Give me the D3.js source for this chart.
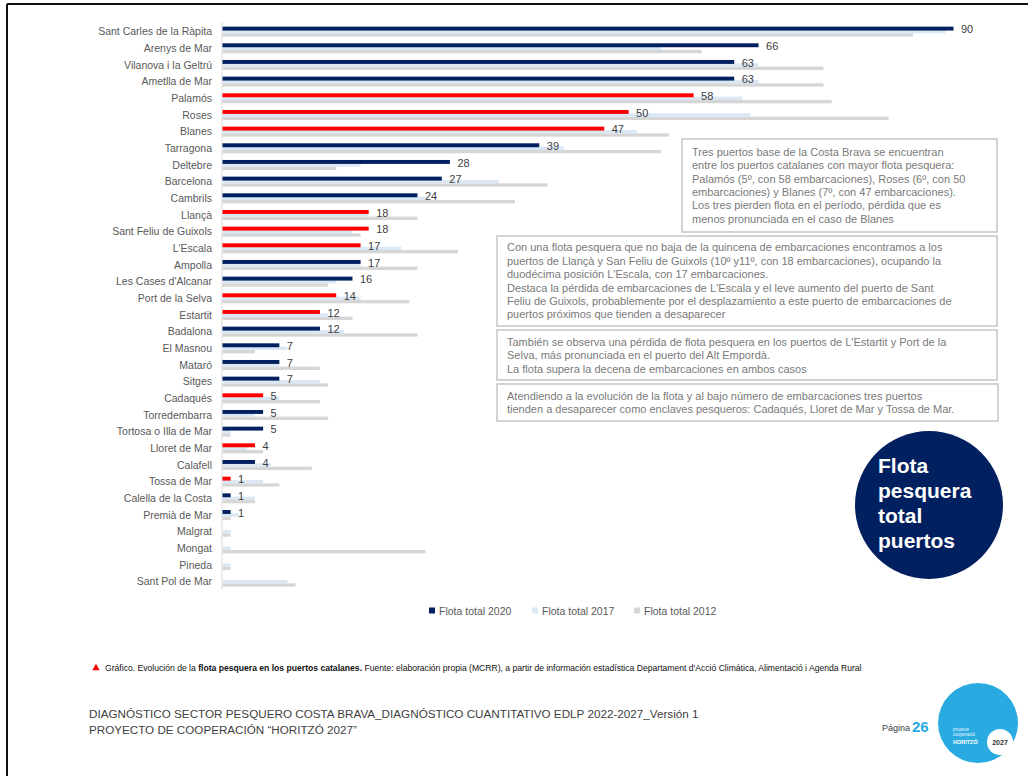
<!DOCTYPE html>
<html>
<head>
<meta charset="utf-8">
<script src="https://cdn.jsdelivr.net/npm/d3@7"></script>
<style>
  body { margin: 0; background: #fff; }
  svg { display: block; font-family: "Liberation Sans", Arial, sans-serif; }
</style>
</head>
<body>
<svg id="chart" width="1028" height="776"></svg>
<script>
// ports, ordered as in the chart (top to bottom)
const ports = ["Sant Carles de la Ràpita", "Arenys de Mar", "Vilanova i la Geltrú", "Ametlla de Mar",
  "Palamós", "Roses", "Blanes", "Tarragona", "Deltebre", "Barcelona", "Cambrils", "Llançà",
  "Sant Feliu de Guixols", "L'Escala", "Ampolla", "Les Cases d'Alcanar", "Port de la Selva",
  "Estartit", "Badalona", "El Masnou", "Mataró", "Sitges", "Cadaqués", "Torredembarra",
  "Tortosa o Illa de Mar", "Lloret de Mar", "Calafell", "Tossa de Mar", "Calella de la Costa",
  "Premià de Mar", "Malgrat", "Mongat", "Pineda", "Sant Pol de Mar"];

const flota2020 = [90, 66, 63, 63, 58, 50, 47, 39, 28, 27, 24, 18, 18, 17, 17, 16, 14, 12, 12, 7, 7, 7, 5, 5, 5, 4, 4, 1, 1, 1, 0, 0, 0, 0];
const flota2017 = [89, 54, 66, 66, 64, 65, 51, 42, 17, 34, 25, 18, 16, 22, 17, 14, 17, 13, 15, 8, 7, 12, 7, 4, 1, 3, 6, 5, 4, 2, 1, 1, 1, 8];
const flota2012 = [85, 59, 74, 74, 75, 82, 55, 54, 14, 40, 36, 24, 17, 29, 24, 13, 23, 16, 24, 4, 12, 13, 12, 13, 1, 5, 11, 7, 4, 1, 1, 25, 1, 9];

// Costa Brava ports drawn in red
const costaBrava = ["Palamós", "Roses", "Blanes", "Llançà", "Sant Feliu de Guixols", "L'Escala",
  "Port de la Selva", "Estartit", "Cadaqués", "Lloret de Mar", "Tossa de Mar"];

const seriesNames = ["Flota total 2020", "Flota total 2017", "Flota total 2012"];

const notes = [
  ["Tres puertos base de la Costa Brava se encuentran",
   "entre los puertos catalanes con mayor flota pesquera:",
   "Palamós (5º, con 58 embarcaciones), Roses (6º, con 50",
   "embarcaciones) y Blanes (7º, con 47 embarcaciones).",
   "Los tres pierden flota en el período, pérdida que es",
   "menos pronunciada en el caso de Blanes"],
  ["Con una flota pesquera que no baja de la quincena de embarcaciones encontramos a los",
   "puertos de Llançà y San Feliu de Guixols (10º y11º, con 18 embarcaciones), ocupando la",
   "duodécima posición L'Escala, con 17 embarcaciones.",
   "Destaca la pérdida de embarcaciones de L'Escala y el leve aumento del puerto de Sant",
   "Feliu de Guixols, probablemente por el desplazamiento a este puerto de embarcaciones de",
   "puertos próximos que tienden a desaparecer"],
  ["También se observa una pérdida de flota pesquera en los puertos de L'Estartit y Port de la",
   "Selva, más pronunciada en el puerto del Alt Empordà.",
   "La flota supera la decena de embarcaciones en ambos casos"],
  ["Atendiendo a la evolución de la flota y al bajo número de embarcaciones tres puertos",
   "tienden a desaparecer como enclaves pesqueros: Cadaqués, Lloret de Mar y Tossa de Mar."]
];

const navy = "#002060", red = "#ff0000", light = "#dae7f5", grey = "#d6d6d6";

const svg = d3.select("#chart");

// page frame (top + left edge)
svg.append("line").attr("x1", 7).attr("x2", 1028).attr("y1", 4).attr("y2", 4).attr("stroke", "#111").attr("stroke-width", 2);
svg.append("line").attr("x1", 7).attr("x2", 7).attr("y1", 4).attr("y2", 776).attr("stroke", "#111").attr("stroke-width", 2);

let data = ports.map((p, i) => ({port: p, v: [flota2020[i], flota2017[i], flota2012[i]]}));

let x = d3.scaleLinear().domain([0, 90]).range([222, 953]);
let y = d3.scaleBand().domain(ports).range([23.3, 590]).paddingInner(0.4).paddingOuter(0.2);
let ys = d3.scaleBand().domain([0, 1, 2]).range([0, y.bandwidth()]);

// axis line
svg.append("line")
  .attr("x1", x(0)).attr("x2", x(0))
  .attr("y1", 22).attr("y2", 590)
  .attr("stroke", "#d9d9d9").attr("stroke-width", 1);

// category labels
let yAxis = d3.axisLeft(y).tickSize(0).tickPadding(10);
let yg = svg.append("g").attr("transform", `translate(${x(0)},0)`).call(yAxis);
yg.select(".domain").remove();
yg.selectAll("text")
  .attr("font-size", "10.5px")
  .attr("fill", "#595959")
  .attr("font-family", "'Liberation Sans', Arial, sans-serif")
  .attr("dy", "0.35em");

// bars
let rows = svg.append("g").selectAll("g").data(data).enter().append("g")
  .attr("transform", d => `translate(0,${y(d.port)})`);

rows.selectAll("rect")
  .data(d => d.v.map((val, k) => ({port: d.port, k: k, val: val})).reverse())
  .enter().append("rect")
  .attr("x", x(0) + 0.5)
  .attr("y", d => ys(d.k))
  .attr("height", d => ys.bandwidth() + (d.k == 0 ? 0.6 : 0))
  .attr("width", d => Math.max(0, x(d.val) - x(0)))
  .attr("fill", d => {
    if (d.k == 1) return light;
    if (d.k == 2) return grey;
    return costaBrava.includes(d.port) ? red : navy;
  });

// value labels for 2020
rows.filter(d => d.v[0] > 0).append("text")
  .attr("x", d => x(d.v[0]) + 8)
  .attr("y", ys(0) + ys.bandwidth() / 2 + 1)
  .attr("dy", "0.35em")
  .attr("font-size", "11px")
  .attr("fill", "#404040")
  .text(d => d.v[0]);

// note boxes
const boxes = [
  {x: 682, y: 139, w: 315, h: 93, tx: 692, ty: 152},
  {x: 497, y: 236, w: 500, h: 90, tx: 507, ty: 247.5},
  {x: 497, y: 330, w: 500, h: 50, tx: 507, ty: 342},
  {x: 497, y: 384, w: 501, h: 37, tx: 507, ty: 396}
];
boxes.forEach((b, i) => {
  svg.append("rect").attr("x", b.x).attr("y", b.y).attr("width", b.w).attr("height", b.h)
    .attr("fill", "#fff").attr("stroke", "#c9c9c9").attr("stroke-width", 1.6);
  svg.append("g").selectAll("text").data(notes[i]).enter().append("text")
    .attr("x", b.tx).attr("y", (d, j) => b.ty + j * 13.4)
    .attr("dy", "0.35em")
    .attr("font-size", "11px")
    .attr("fill", "#7a7a7a")
    .text(d => d);
});

// big navy circle
svg.append("circle").attr("cx", 929).attr("cy", 505).attr("r", 74).attr("fill", navy);
svg.append("g").selectAll("text").data(["Flota", "pesquera", "total", "puertos"]).enter().append("text")
  .attr("x", 878).attr("y", (d, i) => 473 + i * 25)
  .attr("font-size", "21px").attr("font-weight", "bold").attr("fill", "#fff")
  .text(d => d);

// legend
const legendX = [432, 535, 637];
const legendColors = [navy, light, grey];
let lg = svg.append("g").selectAll("g").data(seriesNames).enter().append("g")
  .attr("transform", (d, i) => `translate(${legendX[i]},611)`);
lg.append("rect").attr("x", -3).attr("y", -3.5).attr("width", 6).attr("height", 6).attr("fill", (d, i) => legendColors[i]);
lg.append("text").attr("x", 7).attr("dy", "0.35em").attr("font-size", "10.5px").attr("fill", "#595959").text(d => d);

// fit a text element horizontally to a given width
function fitWidth(sel, x0, width) {
  let w = sel.node().getComputedTextLength();
  let yy = +sel.attr("y");
  sel.attr("x", 0).attr("y", 0)
    .attr("transform", `translate(${x0},${yy}) scale(${width / w},1)`);
}

// caption
svg.append("path").attr("d", d3.symbol(d3.symbolTriangle2, 40)())
  .attr("transform", "translate(96,668)").attr("fill", red);
let cap = svg.append("text").attr("y", 671).attr("font-size", "9px").attr("fill", "#111");
cap.append("tspan").text("Gráfico. Evolución de la ");
cap.append("tspan").attr("font-weight", "bold").text("flota pesquera en los puertos catalanes.");
cap.append("tspan").text(" Fuente: elaboración propia (MCRR), a partir de información estadística Departament d'Acció Climática, Alimentació i Agenda Rural");
fitWidth(cap, 105, 757);

// footer
let f1 = svg.append("text").attr("y", 718).attr("font-size", "11px").attr("fill", "#404040")
  .text("DIAGNÓSTICO SECTOR PESQUERO COSTA BRAVA_DIAGNÓSTICO CUANTITATIVO EDLP 2022-2027_Versión 1");
fitWidth(f1, 89, 610);
let f2 = svg.append("text").attr("y", 734).attr("font-size", "11px").attr("fill", "#404040")
  .text("PROYECTO DE COOPERACIÓN “HORITZÓ 2027”");
fitWidth(f2, 89, 268);

// page number
svg.append("text").attr("x", 882).attr("y", 731).attr("font-size", "9px").attr("fill", "#404040").text("Página");
svg.append("text").attr("x", 912).attr("y", 732).attr("font-size", "15px").attr("font-weight", "bold").attr("fill", "#29abe2").text("26");

// logo
svg.append("circle").attr("cx", 978).attr("cy", 723).attr("r", 40).attr("fill", "#29abe2");
svg.append("circle").attr("cx", 1000).attr("cy", 742).attr("r", 13).attr("fill", "#fff");
svg.append("text").attr("x", 1000).attr("y", 745).attr("text-anchor", "middle")
  .attr("font-size", "7px").attr("font-weight", "bold").attr("fill", "#333").text("2027");
svg.append("g").selectAll("text").data(["projecte", "cooperació"]).enter().append("text")
  .attr("x", 953).attr("y", (d, i) => 731 + i * 5).attr("font-size", "4.5px").attr("fill", "#e8f6fc").text(d => d);
svg.append("text").attr("x", 953).attr("y", 744).attr("font-size", "5.5px").attr("font-weight", "bold").attr("fill", "#fff").text("HORITZÓ");
</script>
</body>
</html>
